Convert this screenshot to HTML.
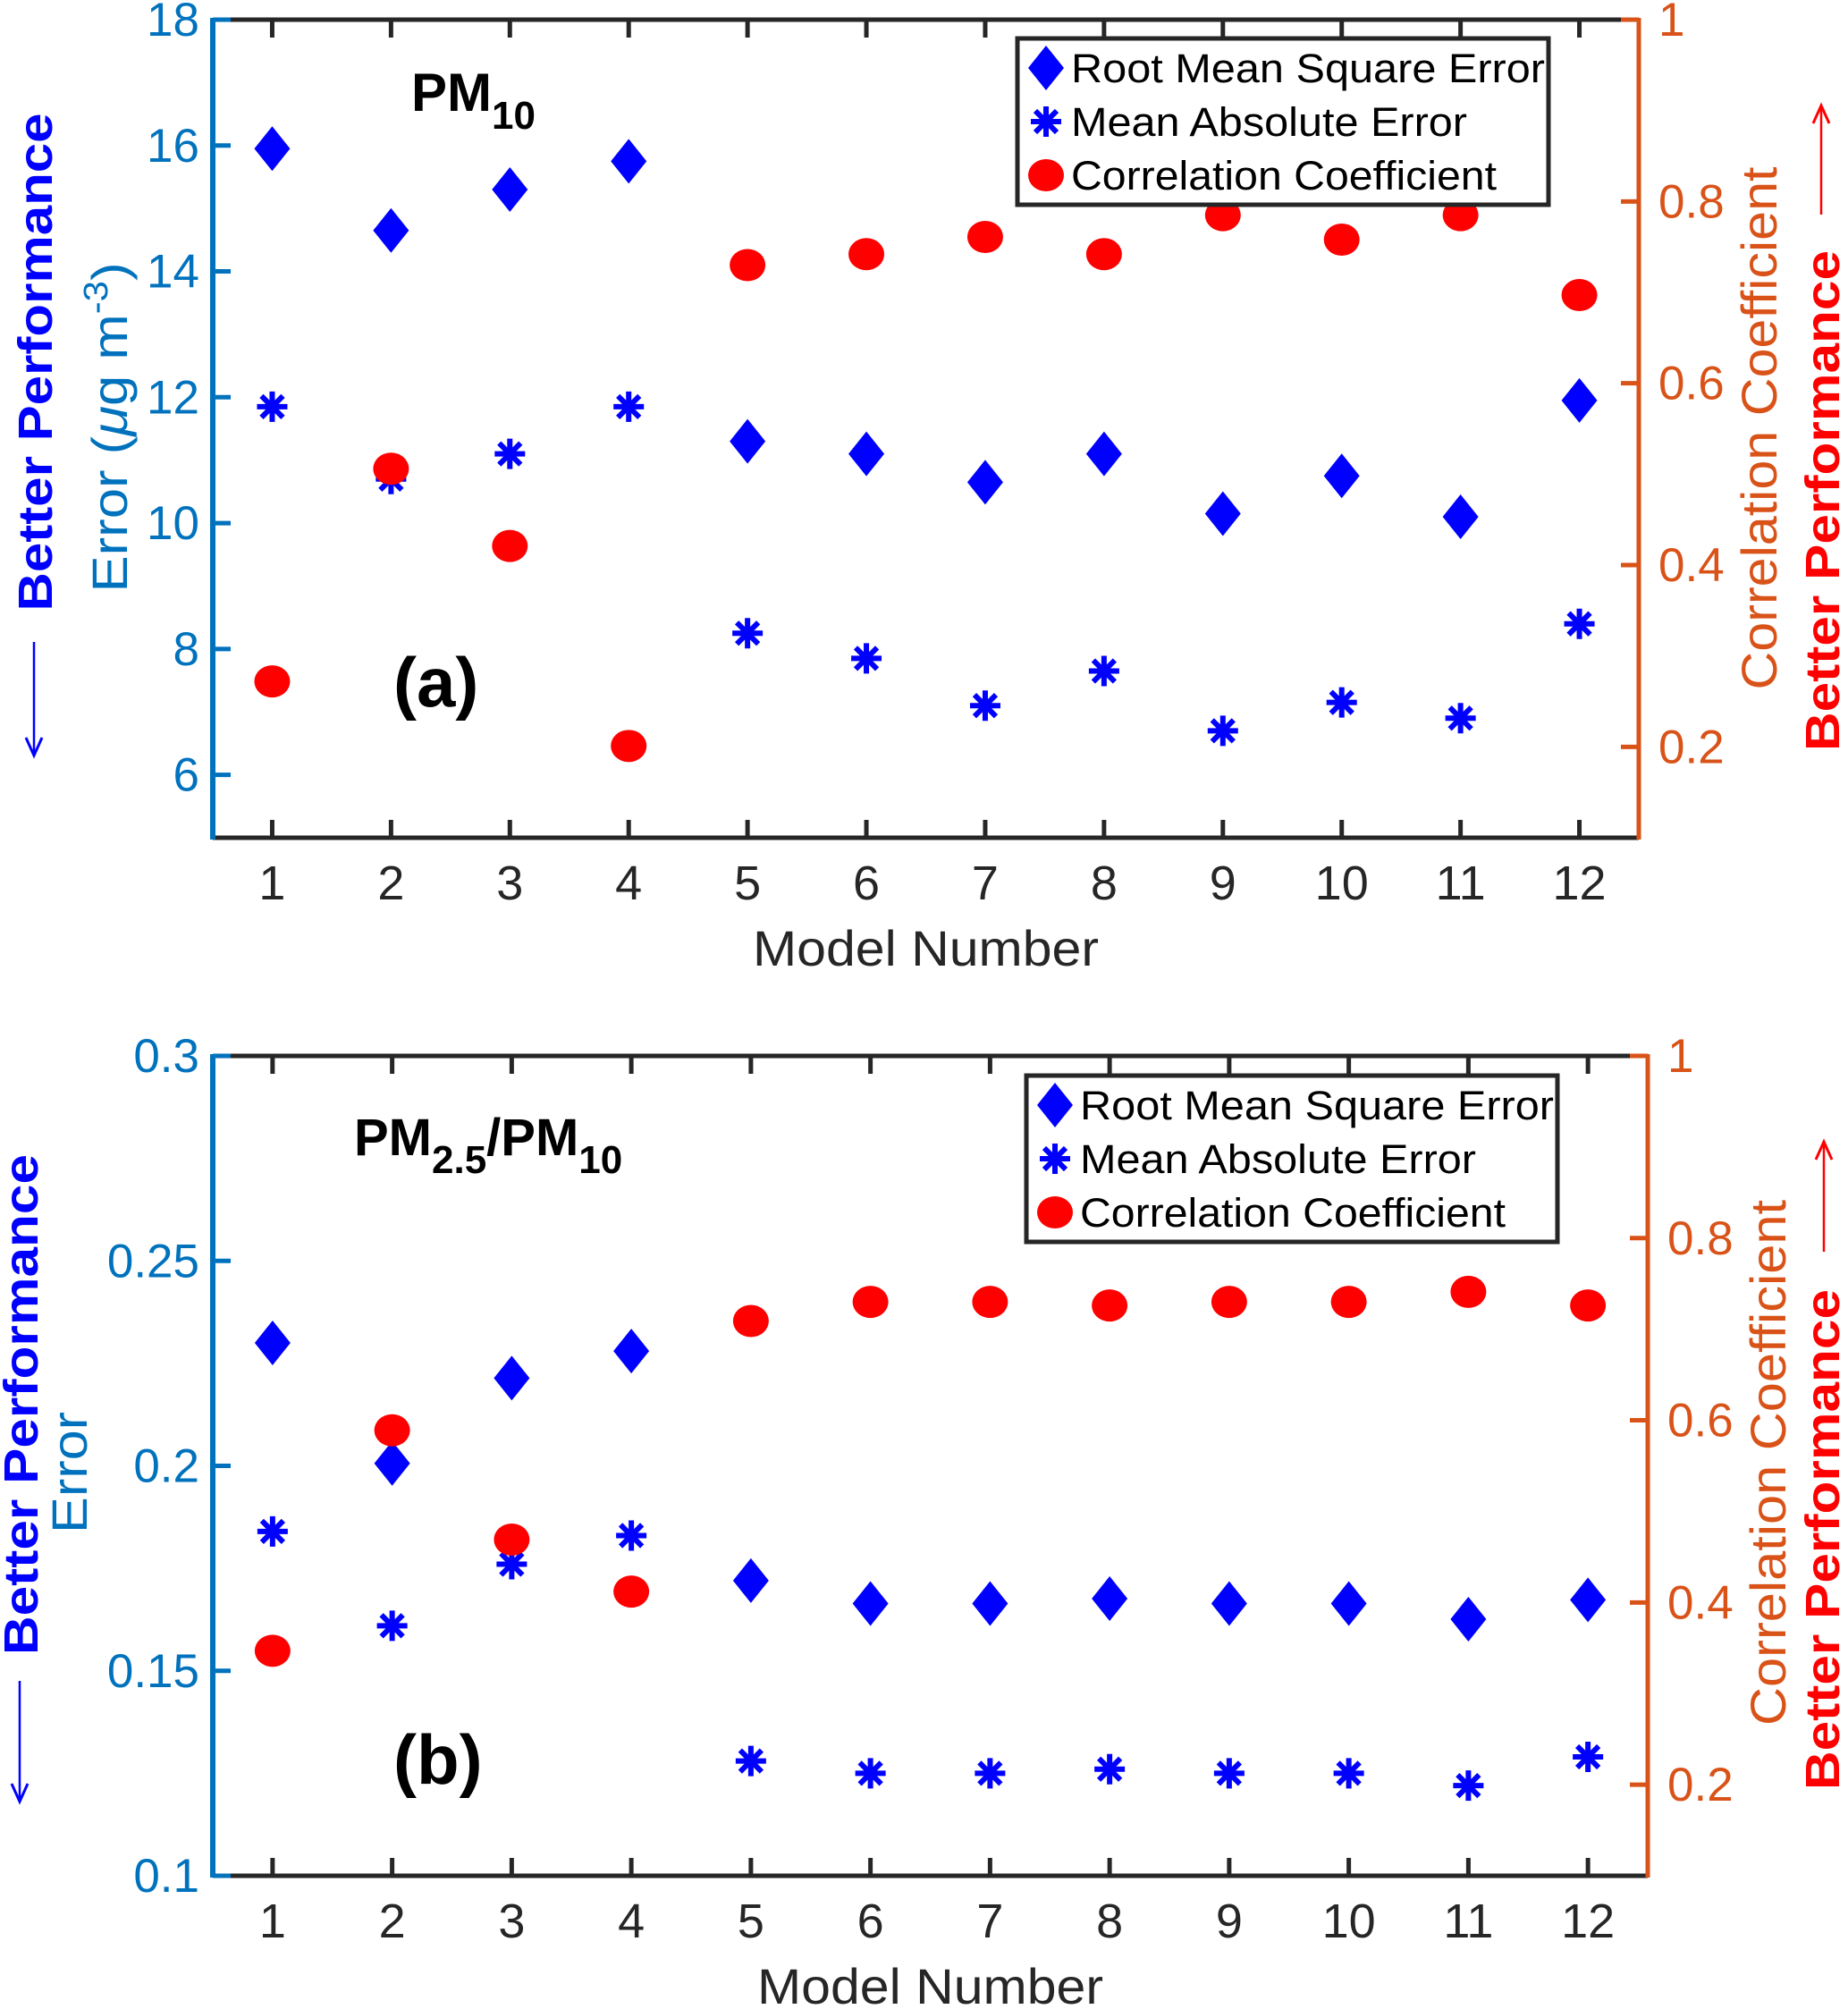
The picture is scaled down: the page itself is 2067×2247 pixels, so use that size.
<!DOCTYPE html>
<html><head><meta charset="utf-8">
<style>
html,body{margin:0;padding:0;background:#fff;}
svg{display:block;font-family:"Liberation Sans",Arial,sans-serif;}
</style></head>
<body>
<svg id="fig" xmlns="http://www.w3.org/2000/svg" width="2067" height="2247" viewBox="0 0 2067 2247"></svg>
<script>
const models = [1,2,3,4,5,6,7,8,9,10,11,12];
const pm10Rmse = [15.95,14.65,15.3,15.75,11.3,11.1,10.65,11.1,10.15,10.75,10.1,11.95];
const pm10Mae = [11.85,10.7,11.1,11.85,8.25,7.85,7.1,7.65,6.7,7.15,6.9,8.4];
const pm10Cc = [0.272,0.506,0.421,0.201,0.730,0.742,0.761,0.742,0.785,0.758,0.785,0.697];
const ratioRmse = [0.230,0.2006,0.2214,0.228,0.172,0.1664,0.1664,0.1676,0.1664,0.1664,0.1626,0.1673];
const ratioMae = [0.184,0.161,0.176,0.183,0.128,0.125,0.125,0.126,0.125,0.125,0.122,0.129];
const ratioCc = [0.347,0.589,0.469,0.412,0.709,0.730,0.730,0.726,0.730,0.730,0.741,0.726];
const pm10LeftTicks = [6,8,10,12,14,16,18];
const ratioLeftTicks = [0.1,0.15,0.2,0.25,0.3];
const rightTicks = [0.2,0.4,0.6,0.8,1];

const NS="http://www.w3.org/2000/svg";
const svg=document.getElementById('fig');
function mk(tag,attrs,parent){const e=document.createElementNS(NS,tag);for(const k in attrs)e.setAttribute(k,attrs[k]);(parent||svg).appendChild(e);return e;}
const BLUEAX="#0072BD",ORANGE="#D95319",DARK="#262626",BLUE="#0000FF",RED="#FF0000";

function diamond(g,x,y){return mk('path',{d:`M${x},${y-25} L${x+20},${y} L${x},${y+25} L${x-20},${y} Z`,fill:BLUE},g);}
function star(g,x,y){const r=17;let d='';for(let a=0;a<4;a++){const t=a*Math.PI/4;d+=`M${x-r*Math.cos(t)},${y-r*Math.sin(t)} L${x+r*Math.cos(t)},${y+r*Math.sin(t)} `;}
 return mk('path',{d:d,stroke:BLUE,'stroke-width':6,fill:'none'},g);}
function dot(g,x,y){return mk('ellipse',{cx:x,cy:y,rx:20,ry:18,fill:RED},g);}

function panel(o){
 const g=mk('g',{});
 
 
 const {L,R,T,B}=o;
 const xs=v=>L+(v-0.5)/12*(R-L);
 const yl=v=>B-(v-o.lmin)/(o.lmax-o.lmin)*(B-T);
 const yr=v=>B-(v-0.1)/0.9*(B-T);
 const ax=mk('g',{},g);
 
 mk('line',{x1:L,y1:T,x2:R,y2:T,stroke:DARK,'stroke-width':5},ax);
 mk('line',{x1:L,y1:B,x2:R,y2:B,stroke:DARK,'stroke-width':5},ax);
 mk('line',{x1:L,y1:T-2,x2:L,y2:B+2,stroke:BLUEAX,'stroke-width':6},ax);
 mk('line',{x1:R,y1:T-2,x2:R,y2:B+2,stroke:ORANGE,'stroke-width':5},ax);
 models.forEach(m=>{const x=xs(m);
  mk('line',{x1:x,y1:B,x2:x,y2:B-20,stroke:DARK,'stroke-width':5},ax);
  mk('line',{x1:x,y1:T,x2:x,y2:T+20,stroke:DARK,'stroke-width':5},ax);
  const t=mk('text',{x:x,y:B+69,'text-anchor':'middle','font-size':54,fill:DARK},ax);t.textContent=m;
  });
 o.lticks.forEach(v=>{const y=yl(v);
  mk('line',{x1:L,y1:y,x2:L+20,y2:y,stroke:BLUEAX,'stroke-width':5},ax);
  const t=mk('text',{x:L-15,y:y+18,'text-anchor':'end','font-size':53,fill:BLUEAX},ax);t.textContent=v;
  });
 rightTicks.forEach(v=>{const y=yr(v);
  mk('line',{x1:R,y1:y,x2:R-20,y2:y,stroke:ORANGE,'stroke-width':5},ax);
  const t=mk('text',{x:R+22,y:y+18,'font-size':53,fill:ORANGE},ax);t.textContent=v;
  });
 const sr=mk('g',{},g);
 o.rmse.forEach((v,i)=>{const p=diamond(sr,xs(models[i]),yl(v));});
 const sm=mk('g',{},g);
 o.mae.forEach((v,i)=>{const p=star(sm,xs(models[i]),yl(v));});
 const sc=mk('g',{},g);
 o.cc.forEach((v,i)=>{const p=dot(sc,xs(models[i]),yr(v));});
 const lg=mk('g',{},g);
 const lx=o.leg[0],ly=o.leg[1];
 mk('rect',{x:lx,y:ly,width:594,height:186,fill:'#fff',stroke:DARK,'stroke-width':5},lg);
 const labels=['Root Mean Square Error','Mean Absolute Error','Correlation Coefficient'];
 const lens=[530,443,476];
 labels.forEach((s,i)=>{const cy=ly+33+i*60;
  if(i==0)diamond(lg,lx+32,cy);else if(i==1)star(lg,lx+32,cy);else dot(lg,lx+32,cy);
  const t=mk('text',{x:lx+60,y:cy+16,'font-size':45,fill:'#000',textLength:lens[i],lengthAdjust:'spacingAndGlyphs'},lg);t.textContent=s;
  });
 const xl=mk('text',{x:(L+R)/2,y:B+143,'text-anchor':'middle','font-size':56,fill:DARK,textLength:387,lengthAdjust:'spacingAndGlyphs'},g);xl.textContent='Model Number';
 
 return {xs,yl,yr,g};
}

panel({name:'panel-a-pm10',L:238,R:1833,T:22,B:937,lmin:5,lmax:18,lticks:pm10LeftTicks,rmse:pm10Rmse,mae:pm10Mae,cc:pm10Cc,leg:[1138,43]});
panel({name:'panel-b-ratio',L:238,R:1843,T:1181,B:2098,lmin:0.1,lmax:0.3,lticks:ratioLeftTicks,rmse:ratioRmse,mae:ratioMae,cc:ratioCc,leg:[1148,1203]});

function rtext(x,y,s,size,fill,weight,name,len,html){const a={transform:`translate(${x},${y}) rotate(-90)`,'text-anchor':'middle','font-size':size,fill:fill,'font-weight':weight||'normal'};
 if(len){a.textLength=len;a.lengthAdjust='spacingAndGlyphs';}
 const t=mk('text',a);
 if(html)t.innerHTML=html;else t.textContent=s;return t;}
function arrow(x,y1,y2,color,name){const g=mk('g',{});
 mk('line',{x1:x,y1:y1,x2:x,y2:y2,stroke:color,'stroke-width':2.5},g);const d=y2>y1?-1:1;
 mk('path',{d:`M${x-9},${y2+d*20} L${x},${y2} L${x+9},${y2+d*20}`,stroke:color,'stroke-width':3,fill:'none'},g);}

rtext(142,478,'',56,BLUEAX,'normal','left-axis-title',369,'Error (<tspan font-style="italic">μ</tspan>g m<tspan dy="-22" font-size="38">-3</tspan><tspan dy="22">)</tspan>');
rtext(58,405,'Better Performance',54,BLUE,'bold','left-better-performance',557);
arrow(38,718,845,BLUE,'left-arrow-down');
rtext(1987,479,'Correlation Coefficient',56,ORANGE,'normal','right-axis-title',585);
rtext(2057,560,'Better Performance',54,RED,'bold','right-better-performance',560);
arrow(2037,240,118,RED,'right-arrow-up');
let t=mk('text',{x:460,y:124,'font-size':60,'font-weight':'bold',fill:'#000'});t.innerHTML='PM<tspan dy="20" font-size="44">10</tspan>';

t=mk('text',{x:440,y:790,'font-size':78,'font-weight':'bold',fill:'#000'});t.textContent='(a)';


rtext(97,1647,'Error',56,BLUEAX,'normal','left-axis-title-b',136);
rtext(42,1571,'Better Performance',54,BLUE,'bold','left-better-performance-b',560);
arrow(22,1880,2015,BLUE,'left-arrow-down-b');
rtext(1997,1636,'Correlation Coefficient',56,ORANGE,'normal','right-axis-title-b',588);
rtext(2057,1722,'Better Performance',54,RED,'bold','right-better-performance-b',560);
arrow(2040,1400,1277,RED,'right-arrow-up-b');
t=mk('text',{x:396,y:1292,'font-size':58,'font-weight':'bold',fill:'#000'});t.innerHTML='PM<tspan dy="20" font-size="44">2.5</tspan><tspan dy="-20">/PM</tspan><tspan dy="20" font-size="44">10</tspan>';

t=mk('text',{x:440,y:1995,'font-size':78,'font-weight':'bold',fill:'#000'});t.textContent='(b)';

</script>
</body></html>
